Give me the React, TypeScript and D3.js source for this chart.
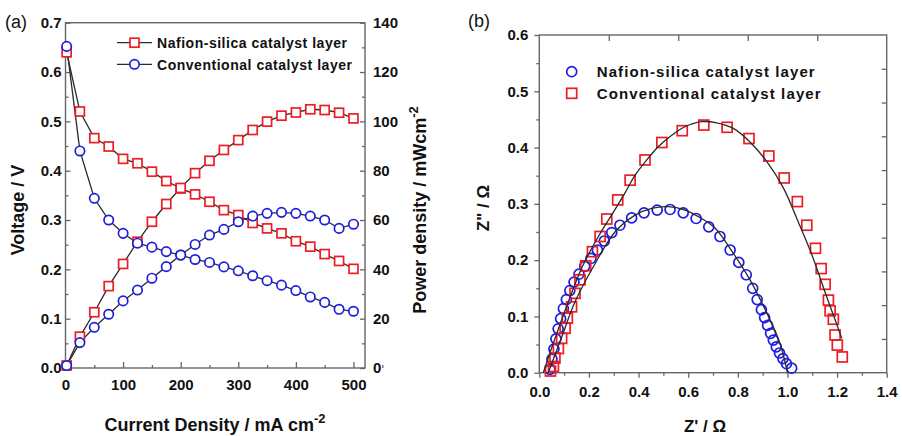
import React, { useEffect, useRef } from 'react'
import * as d3 from 'd3'

// (a) polarisation + power density curves
const current = [2, 25, 50, 75, 100, 125, 150, 175, 200, 225, 250, 275, 300, 325, 350, 375, 400, 425, 450, 475, 500]
const voltageNafion = [0.64, 0.52, 0.466, 0.449, 0.424, 0.415, 0.398, 0.379, 0.364, 0.352, 0.337, 0.32, 0.31, 0.294, 0.283, 0.273, 0.257, 0.246, 0.231, 0.217, 0.201]
const voltageConv = [0.652, 0.44, 0.344, 0.3, 0.273, 0.253, 0.245, 0.236, 0.229, 0.22, 0.214, 0.205, 0.197, 0.187, 0.177, 0.168, 0.157, 0.144, 0.133, 0.119, 0.115]
const powerNafion = [1, 12.7, 22.6, 33.2, 42.2, 51.2, 59.3, 66.5, 73, 79, 84, 88.4, 92.4, 96.5, 99.9, 102.3, 103.6, 104.9, 104.6, 103.5, 101.2]
const powerConv = [1, 10.3, 16.5, 21.8, 27.2, 31.6, 36.4, 41.1, 45.8, 50.1, 53.9, 56.2, 59.3, 61.6, 62.7, 63.1, 62.7, 61.6, 60, 56.6, 58.3]

const currentTicks = [0, 100, 200, 300, 400, 500]
const voltageTicks = [0, 0.1, 0.2, 0.3, 0.4, 0.5, 0.6, 0.7]
const powerTicks = [0, 20, 40, 60, 80, 100, 120, 140]

// (b) Nyquist plots
const zReNafion = [0.043, 0.051, 0.059, 0.067, 0.076, 0.086, 0.097, 0.109, 0.123, 0.14, 0.16, 0.183, 0.208, 0.234, 0.262, 0.292, 0.325, 0.372, 0.422, 0.475, 0.527, 0.58, 0.632, 0.683, 0.728, 0.769, 0.804, 0.834, 0.86, 0.878, 0.895, 0.908, 0.92, 0.932, 0.943, 0.955, 0.968, 0.982, 0.996, 1.017]
const zImNafion = [0.006, 0.024, 0.042, 0.06, 0.078, 0.096, 0.114, 0.13, 0.146, 0.161, 0.175, 0.189, 0.203, 0.218, 0.234, 0.249, 0.262, 0.275, 0.284, 0.289, 0.29, 0.284, 0.274, 0.259, 0.242, 0.218, 0.196, 0.174, 0.15, 0.13, 0.112, 0.098, 0.084, 0.07, 0.058, 0.046, 0.035, 0.025, 0.016, 0.008]
const zReConv = [0.045, 0.057, 0.063, 0.077, 0.09, 0.104, 0.113, 0.13, 0.144, 0.164, 0.187, 0.214, 0.245, 0.272, 0.316, 0.366, 0.426, 0.494, 0.576, 0.663, 0.757, 0.845, 0.925, 0.987, 1.04, 1.078, 1.113, 1.136, 1.152, 1.165, 1.172, 1.185, 1.192, 1.201, 1.221]
const zImConv = [0.003, 0.011, 0.026, 0.043, 0.061, 0.079, 0.097, 0.117, 0.141, 0.165, 0.19, 0.215, 0.242, 0.273, 0.307, 0.342, 0.378, 0.409, 0.43, 0.44, 0.436, 0.416, 0.385, 0.346, 0.304, 0.262, 0.221, 0.185, 0.157, 0.129, 0.11, 0.095, 0.067, 0.049, 0.028]
const fitReNafion = [0.036, 0.09, 0.144, 0.22, 0.305, 0.386, 0.453, 0.52, 0.587, 0.654, 0.708, 0.782, 0.849, 0.917, 0.97, 1.0]
const fitImNafion = [0, 0.063, 0.126, 0.19, 0.25, 0.28, 0.292, 0.295, 0.289, 0.274, 0.257, 0.212, 0.165, 0.106, 0.052, 0]
const fitReConv = [0.016, 0.065, 0.117, 0.175, 0.238, 0.298, 0.345, 0.386, 0.433, 0.48, 0.534, 0.587, 0.654, 0.715, 0.782, 0.849, 0.917, 0.984, 1.051, 1.091, 1.125, 1.158, 1.192, 1.219]
const fitImConv = [0, 0.063, 0.126, 0.19, 0.242, 0.285, 0.319, 0.351, 0.378, 0.402, 0.422, 0.437, 0.446, 0.444, 0.434, 0.41, 0.375, 0.328, 0.26, 0.218, 0.177, 0.135, 0.094, 0.061]

const zReTicks = [0, 0.2, 0.4, 0.6, 0.8, 1.0, 1.2, 1.4]
const zImTicks = [0, 0.1, 0.2, 0.3, 0.4, 0.5, 0.6]

const RED = '#ee1c24'
const BLUE = '#1d1de0'
const AXIS = '#666'
const LINE = '#2a2a2a'
const FONT = '"Liberation Sans", Arial, sans-serif'

function axisG(svg, axis, x, y, labels = true) {
  const g = svg.append('g').attr('transform', `translate(${x},${y})`).call(axis)
  g.select('.domain').remove()
  g.selectAll('.tick line').attr('stroke', AXIS).attr('stroke-width', 1.3)
  if (labels) {
    g.selectAll('.tick text')
      .attr('font-family', FONT).attr('font-size', 15).attr('font-weight', 'bold').attr('fill', '#111')
  } else {
    g.selectAll('.tick text').remove()
  }
  return g
}

function square(g, cx, cy, s, colour, fill) {
  g.append('rect')
    .attr('x', cx - s / 2).attr('y', cy - s / 2).attr('width', s).attr('height', s)
    .attr('fill', fill).attr('stroke', colour).attr('stroke-width', 1.7)
}

function circle(g, cx, cy, r, colour, fill) {
  g.append('circle')
    .attr('cx', cx).attr('cy', cy).attr('r', r)
    .attr('fill', fill).attr('stroke', colour).attr('stroke-width', 1.7)
}

function title(svg, x, y, rotate, main, sup, size) {
  const t = svg.append('text')
    .attr('transform', `translate(${x},${y})${rotate ? ' rotate(-90)' : ''}`)
    .attr('text-anchor', 'middle').attr('font-family', FONT).attr('font-weight', 'bold')
    .attr('font-size', size).attr('fill', '#111')
  t.append('tspan').text(main)
  if (sup) t.append('tspan').attr('font-size', size * 0.72).attr('dy', -8).text(sup)
}

function drawPanelA(svg) {
  const left = 65.5, right = 365, top = 22.7, bottom = 368
  const x = d3.scaleLinear().domain([0, 520]).range([left, right])
  const yV = d3.scaleLinear().domain([0, 0.7]).range([bottom, top])
  const yP = d3.scaleLinear().domain([0, 140]).range([bottom, top])

  svg.append('rect').attr('x', left).attr('y', top).attr('width', right - left).attr('height', bottom - top)
    .attr('fill', 'none').attr('stroke', AXIS).attr('stroke-width', 1.4)

  axisG(svg, d3.axisBottom(x).tickValues(currentTicks).tickSize(-6).tickPadding(11).tickFormat(d3.format('d')), 0, bottom)
  axisG(svg, d3.axisBottom(x).tickValues(currentTicks.map(v => v + 50)).tickSize(-3), 0, bottom, false)
  axisG(svg, d3.axisLeft(yV).tickValues(voltageTicks).tickSize(-5).tickPadding(4).tickFormat(d3.format('.1f')), left, 0)
  axisG(svg, d3.axisLeft(yV).tickValues(voltageTicks.slice(0, -1).map(v => v + 0.05)).tickSize(-3), left, 0, false)
  axisG(svg, d3.axisRight(yP).tickValues(powerTicks).tickSize(-5).tickPadding(8).tickFormat(d3.format('d')), right, 0)
  axisG(svg, d3.axisRight(yP).tickValues(powerTicks.slice(0, -1).map(v => v + 10)).tickSize(-3), right, 0, false)

  const lineV = d3.line().x((d, i) => x(current[i])).y(d => yV(d))
  const lineP = d3.line().x((d, i) => x(current[i])).y(d => yP(d))
  const plot = svg.append('g')
  ;[[voltageNafion, lineV], [voltageConv, lineV], [powerNafion, lineP], [powerConv, lineP]].forEach(([data, gen]) => {
    plot.append('path').attr('d', gen(data)).attr('fill', 'none').attr('stroke', LINE).attr('stroke-width', 1.3)
  })

  current.forEach((c, i) => {
    square(plot, x(c), yV(voltageNafion[i]), 9, RED, '#fff')
    square(plot, x(c), yP(powerNafion[i]), 9, RED, '#fff')
  })
  current.forEach((c, i) => {
    circle(plot, x(c), yV(voltageConv[i]), 4.7, BLUE, '#fff')
    circle(plot, x(c), yP(powerConv[i]), 4.7, BLUE, '#fff')
  })

  // legend
  const lg = svg.append('g')
  const rows = [
    { label: 'Nafion-silica catalyst layer', y: 42.7, w: 190, kind: 'square' },
    { label: 'Conventional catalyst layer', y: 64.3, w: 195, kind: 'circle' }
  ]
  rows.forEach(r => {
    lg.append('line').attr('x1', 117).attr('x2', 152).attr('y1', r.y).attr('y2', r.y)
      .attr('stroke', LINE).attr('stroke-width', 1.3)
    if (r.kind === 'square') square(lg, 134.5, r.y, 9, RED, '#fff')
    else circle(lg, 134.5, r.y, 4.7, BLUE, '#fff')
    lg.append('text').attr('x', 157).attr('y', r.y + 5.3)
      .attr('font-family', FONT).attr('font-weight', 'bold').attr('font-size', 14).attr('fill', '#111')
      .attr('textLength', r.w).attr('lengthAdjust', 'spacing').text(r.label)
  })

  svg.append('text').attr('x', 5).attr('y', 28).attr('font-family', FONT).attr('font-size', 18).attr('fill', '#111').text('(a)')
  title(svg, 215, 431, false, 'Current Density / mA cm', '-2', 18)
  title(svg, 24, 210, true, 'Voltage / V', null, 18)
  title(svg, 426, 210, true, 'Power density / mWcm', '-2', 18)
}

function drawPanelB(svg) {
  const left = 539.3, right = 886.7, top = 35, bottom = 372.7
  const x = d3.scaleLinear().domain([0, 1.4]).range([left, right])
  const y = d3.scaleLinear().domain([0, 0.6]).range([bottom, top])

  svg.append('rect').attr('x', left).attr('y', top).attr('width', right - left).attr('height', bottom - top)
    .attr('fill', 'none').attr('stroke', AXIS).attr('stroke-width', 1.4)

  axisG(svg, d3.axisBottom(x).tickValues(zReTicks).tickSize(5).tickPadding(9).tickFormat(d3.format('.1f')), 0, bottom)
  axisG(svg, d3.axisBottom(x).tickValues(zReTicks.slice(0, -1).map(v => v + 0.1)).tickSize(3), 0, bottom, false)
  axisG(svg, d3.axisLeft(y).tickValues(zImTicks).tickSize(5).tickPadding(6).tickFormat(d3.format('.1f')), left, 0)
  axisG(svg, d3.axisLeft(y).tickValues(zImTicks.slice(0, -1).map(v => v + 0.05)).tickSize(3), left, 0, false)
  axisG(svg, d3.axisTop(x).tickValues(d3.range(1, 5).map(i => i * 0.28)).tickSize(-6), 0, top, false)
  axisG(svg, d3.axisRight(y).tickValues(d3.range(1, 10).map(i => i * 0.06)).tickSize(-5), right, 0, false)

  const plot = svg.append('g')
  zReNafion.forEach((v, i) => circle(plot, x(v), y(zImNafion[i]), 5, BLUE, 'none'))
  zReConv.forEach((v, i) => square(plot, x(v), y(zImConv[i]), 10, RED, 'none'))

  const fit = (xs, ys) => d3.line().curve(d3.curveCatmullRom.alpha(0.5))
    .x((d, i) => x(xs[i])).y(d => y(d))(ys)
  plot.append('path').attr('d', fit(fitReNafion, fitImNafion)).attr('fill', 'none').attr('stroke', LINE).attr('stroke-width', 1.3)
  plot.append('path').attr('d', fit(fitReConv, fitImConv)).attr('fill', 'none').attr('stroke', LINE).attr('stroke-width', 1.3)

  // legend
  const lg = svg.append('g')
  circle(lg, 571.7, 71.7, 5, BLUE, 'none')
  square(lg, 571.7, 93.3, 10, RED, 'none')
  ;[['Nafion-silica catalyst layer', 77.3, 218], ['Conventional catalyst layer', 98.8, 224]].forEach(([t, ty, w]) => {
    lg.append('text').attr('x', 596.7).attr('y', ty)
      .attr('font-family', FONT).attr('font-weight', 'bold').attr('font-size', 15).attr('fill', '#111')
      .attr('textLength', w).attr('lengthAdjust', 'spacing').text(t)
  })

  svg.append('text').attr('x', 468).attr('y', 26.5).attr('font-family', FONT).attr('font-size', 18).attr('fill', '#111').text('(b)')
  title(svg, 705, 432, false, "Z' / \u03a9", null, 17)
  title(svg, 489, 208, true, 'Z" / \u03a9', null, 17)
}

export default function App() {
  const ref = useRef<SVGSVGElement>(null)

  useEffect(() => {
    const svg = d3.select(ref.current)
    svg.selectAll('*').remove()
    drawPanelA(svg)
    drawPanelB(svg)
  }, [])

  return (
    <svg ref={ref} width={902} height={436}
      style={{ position: 'absolute', left: 0, top: 0, background: '#fff' }} />
  )
}
